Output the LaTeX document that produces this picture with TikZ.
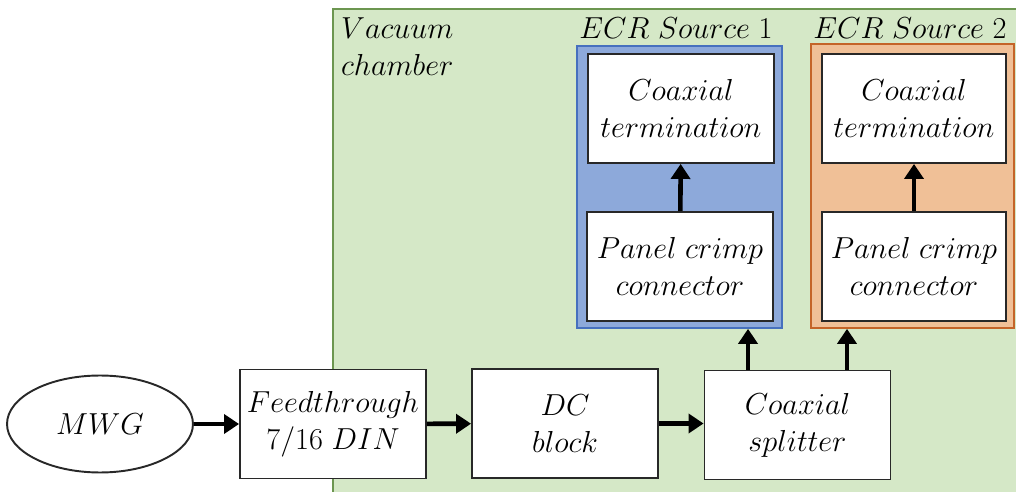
\documentclass[tikz,border=0pt]{standalone}
\usepackage{amsmath}
\usepackage{tikz}
\usetikzlibrary{arrows.meta, shapes.geometric}
\usepackage{xcolor}

\definecolor{vacfill}{RGB}{213,232,199}
\definecolor{vacline}{RGB}{108,150,80}
\definecolor{srcAfill}{RGB}{141,169,218}
\definecolor{srcAline}{RGB}{70,112,190}
\definecolor{srcBfill}{RGB}{240,192,151}
\definecolor{srcBline}{RGB}{196,100,40}
\definecolor{boxline}{RGB}{40,40,40}

\begin{document}
\begin{tikzpicture}[x=0.02cm, y=-0.02cm,
    txt/.style={font=\fontsize{16}{21}\selectfont, align=center},
    blk/.style={txt, draw=boxline, line width=1.1pt, fill=white, inner sep=0pt,
                minimum width=3.72cm, minimum height=2.18cm},
    arr/.style={line width=2.6pt, -{Triangle[length=0.3cm, width=0.38cm]}}]
    \useasboundingbox (0,0) rectangle (1016,492);

    % Vacuum chamber
    \fill[vacfill] (333,9) rectangle (1030,500);
    \draw[vacline, line width=1.2pt] (333,500) -- (333,9) -- (1030,9);
    \node[txt, anchor=north west, align=left] (vac) at (335,12) {$Vacuum$\\$chamber$};

    % ECR sources
    \node[draw=srcAline, fill=srcAfill, line width=1pt, minimum width=4.1cm,
          minimum height=5.64cm] (src1) at (679.5,187) {};
    \node[draw=srcBline, fill=srcBfill, line width=1pt, minimum width=4.06cm,
          minimum height=5.68cm] (src2) at (912.5,186) {};
    \node[txt] (src1lbl) at (676,28) {$ECR\ Source\ 1$};
    \node[txt] (src2lbl) at (910,28) {$ECR\ Source\ 2$};

    % Blocks
    \node[draw=boxline, line width=1.1pt, ellipse, txt, minimum width=3.72cm,
          minimum height=1.94cm] (mwg) at (100,424) {$MWG$};
    \node[blk] (feed) at (333,424) {$Feedthrough$\\$7/16\ DIN$};
    \node[blk] (dcblock) at (565,423.5) {$DC$\\$block$};
    \node[blk] (splitter) at (797.5,425) {$Coaxial$\\$splitter$};
    \node[blk] (term1) at (681,108.5) {$Coaxial$\\$termination$};
    \node[blk] (crimp1) at (680,266.5) {$Panel\ crimp$\\$connector$};
    \node[blk, minimum width=3.68cm] (term2) at (914,108.5) {$Coaxial$\\$termination$};
    \node[blk, minimum width=3.68cm] (crimp2) at (914,266.5) {$Panel\ crimp$\\$connector$};

    % Signal path
    \draw[arr] (mwg) -- (feed);
    \draw[arr] (feed) -- (dcblock);
    \draw[arr] (dcblock.east) -- (dcblock.east -| splitter.west);
    \draw[arr] ([xshift=-0.99cm]splitter.north) -- ([xshift=-0.99cm]splitter.north |- src1.south);
    \draw[arr] ([xshift=0.99cm]splitter.north) -- ([xshift=0.99cm]splitter.north |- src2.south);
    \draw[arr] (crimp1) -- (term1);
    \draw[arr] (crimp2) -- (term2);
\end{tikzpicture}
\end{document}
